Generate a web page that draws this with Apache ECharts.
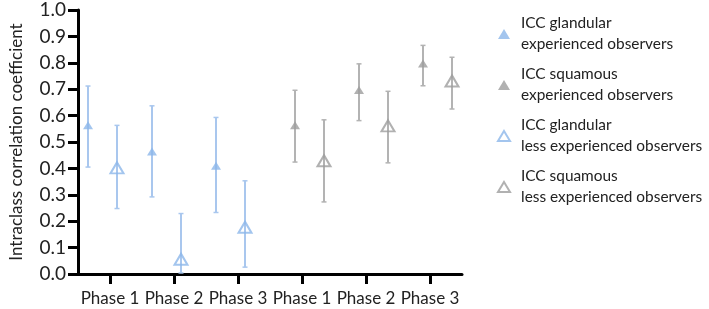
<!DOCTYPE html>
<html><head><meta charset="utf-8">
<script src="https://cdn.jsdelivr.net/npm/echarts@6/dist/echarts.min.js"></script>
<style>html,body{margin:0;padding:0;background:#fff}#c{width:709px;height:309px}</style>
</head><body><div id="c"></div>
<script>
var categories = ['Phase 1','Phase 2','Phase 3','Phase 1','Phase 2','Phase 3'];
var yTicks = [0,0.1,0.2,0.3,0.4,0.5,0.6,0.7,0.8,0.9,1.0];
// [categoryIndex, value, low, high]
var glandExp  = [[0,0.563,0.405,0.712],[1,0.464,0.292,0.637],[2,0.410,0.233,0.593]];
var glandLess = [[0,0.402,0.248,0.563],[1,0.056,0.004,0.229],[2,0.177,0.026,0.353]];
var squamExp  = [[3,0.563,0.424,0.696],[4,0.697,0.581,0.796],[5,0.797,0.713,0.866]];
var squamLess = [[3,0.429,0.273,0.584],[4,0.561,0.421,0.692],[5,0.731,0.625,0.821]];
var names = ['ICC glandular\nexperienced observers','ICC squamous\nexperienced observers',
             'ICC glandular\nless experienced observers','ICC squamous\nless experienced observers'];

var BLUE='#8cb6ea', BLUE_BAR='#a9c7ee', GRAY='#9e9e9e', GRAY_BAR='#b3b3b3';
var FONT='Lato';

function errSeries(data, dx, color){
  return {
    type:'custom', silent:true, z:1,
    data: data.map(function(d){return [d[0], d[2], d[3]];}),
    renderItem: function(params, api){
      var lo = api.coord([api.value(0), api.value(1)]);
      var hi = api.coord([api.value(0), api.value(2)]);
      var x = lo[0] + dx, c = 2.5;
      var st = {stroke: color, lineWidth: 2};
      return {type:'group', children:[
        {type:'line', shape:{x1:x,y1:lo[1],x2:x,y2:hi[1]}, style:st},
        {type:'line', shape:{x1:x-c,y1:lo[1],x2:x+c,y2:lo[1]}, style:{stroke:color,lineWidth:1.5}},
        {type:'line', shape:{x1:x-c,y1:hi[1],x2:x+c,y2:hi[1]}, style:{stroke:color,lineWidth:1.5}}
      ]};
    }
  };
}
function markSeries(name, data, dx, color, hollow){
  return {
    type:'scatter', name:name, z:3,
    symbol:'triangle',
    symbolSize: hollow ? [13,11] : [10,8],
    symbolOffset:[dx,0],
    data: data.map(function(d){return [d[0], d[1]];}),
    itemStyle: hollow ? {color:'rgba(255,255,255,0)', borderColor:color, borderWidth:2}
                      : {color:color},
    emphasis:{disabled:true}
  };
}

var chart = echarts.init(document.getElementById('c'), null, {renderer:'canvas'});
chart.setOption({
  animation:false,
  grid:{left:61, right:247, top:10, bottom:35},
  xAxis:{
    type:'category', data:categories,
    axisLine:{show:true, lineStyle:{color:'#000', width:3}},
    axisTick:{show:true, inside:false, alignWithLabel:true, interval:0, length:10, lineStyle:{color:'#000', width:3}},
    axisLabel:{interval:0, color:'#222', fontFamily:FONT, fontSize:17, margin:16},
    splitLine:{show:false}
  },
  yAxis:{
    type:'value', min:0, max:1, interval:0.1,
    name:'Intraclass correlation coefficient', nameLocation:'middle', nameGap:53,
    nameTextStyle:{color:'#222', fontFamily:FONT, fontSize:17},
    axisLine:{show:true, lineStyle:{color:'#000', width:3}},
    axisTick:{show:true, inside:false, length:10, lineStyle:{color:'#000', width:3}},
    axisLabel:{color:'#222', fontFamily:FONT, fontSize:19, margin:12,
      formatter:function(v){return v.toFixed(1);}},
    splitLine:{show:false}
  },
  legend:{
    orient:'vertical', left:492, top:8, itemGap:9,
    itemWidth:12, itemHeight:10,
    data:names,
    textStyle:{color:'#222', fontFamily:FONT, fontSize:15.4, lineHeight:21, padding:[0,0,0,6]}
  },
  series:[
    errSeries(glandExp, -22, BLUE_BAR),
    errSeries(glandLess, 7, BLUE_BAR),
    errSeries(squamExp, -7, GRAY_BAR),
    errSeries(squamLess, 22, GRAY_BAR),
    markSeries(names[0], glandExp, -22, BLUE, false),
    markSeries(names[1], squamExp, -7, GRAY, false),
    markSeries(names[2], glandLess, 7, BLUE, true),
    markSeries(names[3], squamLess, 22, GRAY, true)
  ]
});
</script></body></html>
